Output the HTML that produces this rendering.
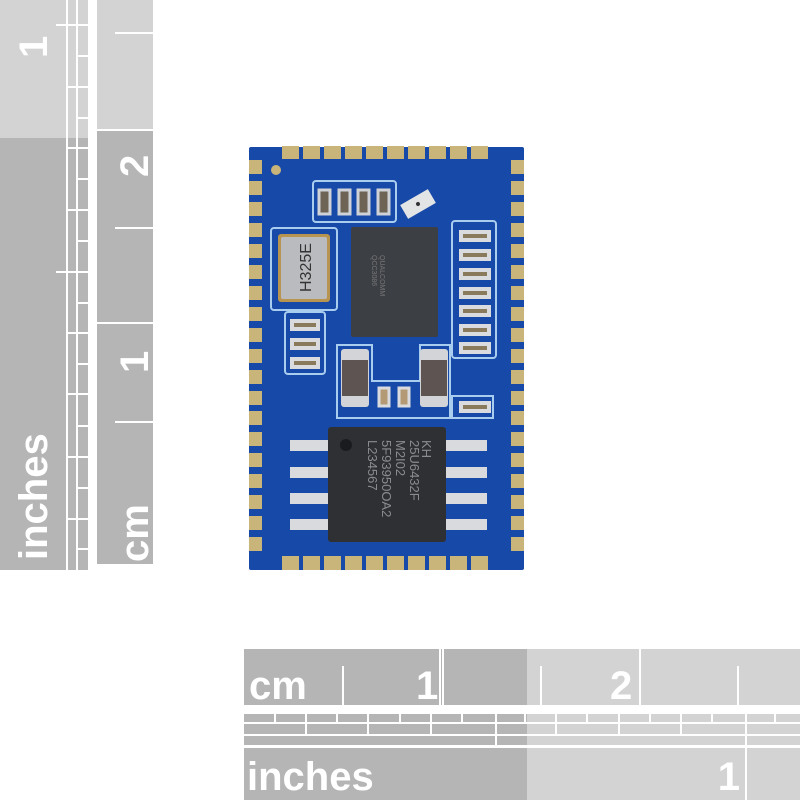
<!DOCTYPE html>
<html><head><meta charset="utf-8"><style>
html,body{margin:0;padding:0;background:#fff;width:800px;height:800px;overflow:hidden}
svg{display:block}
text{font-family:"Liberation Sans",sans-serif;font-weight:bold;fill:#fff}
</style></head><body>
<svg width="800" height="800" viewBox="0 0 800 800" xmlns="http://www.w3.org/2000/svg">
<!-- LEFT RULER -->
<rect x="0" y="0" width="90" height="138" fill="#d3d3d4"/>
<rect x="0" y="138" width="90" height="432" fill="#b5b5b6"/>
<rect x="97" y="0" width="56" height="130" fill="#d3d3d4"/>
<rect x="97" y="130" width="56" height="434" fill="#b5b5b6"/>
<g stroke="#fff" stroke-width="2">
<line x1="67" y1="0" x2="67" y2="570"/><line x1="77" y1="0" x2="77" y2="570"/><line x1="89" y1="0" x2="89" y2="570"/>
<line x1="56" y1="25" x2="90" y2="25"/><line x1="56" y1="272" x2="90" y2="272"/>
<line x1="67" y1="87" x2="89" y2="87"/><line x1="67" y1="148" x2="89" y2="148"/><line x1="67" y1="210" x2="89" y2="210"/>
<line x1="67" y1="333" x2="89" y2="333"/><line x1="67" y1="394" x2="89" y2="394"/><line x1="67" y1="457" x2="89" y2="457"/><line x1="67" y1="519" x2="89" y2="519"/>
<line x1="77" y1="56" x2="89" y2="56"/><line x1="77" y1="118" x2="89" y2="118"/><line x1="77" y1="179" x2="89" y2="179"/><line x1="77" y1="241" x2="89" y2="241"/>
<line x1="77" y1="303" x2="89" y2="303"/><line x1="77" y1="364" x2="89" y2="364"/><line x1="77" y1="426" x2="89" y2="426"/><line x1="77" y1="488" x2="89" y2="488"/><line x1="77" y1="549" x2="89" y2="549"/>
<line x1="97" y1="130" x2="153" y2="130"/><line x1="97" y1="323" x2="153" y2="323"/>
<line x1="115" y1="33" x2="153" y2="33"/><line x1="115" y1="228" x2="153" y2="228"/><line x1="115" y1="422" x2="153" y2="422"/>
</g>
<text transform="translate(47,58) rotate(-90)" font-size="40">1</text>
<text transform="translate(47,560) rotate(-90)" font-size="40">inches</text>
<text transform="translate(148,177) rotate(-90)" font-size="40">2</text>
<text transform="translate(148,373) rotate(-90)" font-size="40">1</text>
<text transform="translate(148,562) rotate(-90)" font-size="40">cm</text>

<!-- BOTTOM RULER -->
<rect x="244" y="649" width="283" height="56" fill="#b5b5b6"/>
<rect x="527" y="649" width="273" height="56" fill="#d3d3d4"/>
<rect x="244" y="713" width="283" height="33" fill="#b5b5b6"/>
<rect x="527" y="713" width="273" height="33" fill="#d3d3d4"/>
<rect x="244" y="748" width="283" height="52" fill="#b5b5b6"/>
<rect x="527" y="748" width="273" height="52" fill="#d3d3d4"/>
<g stroke="#fff" stroke-width="2">
<line x1="244" y1="713" x2="800" y2="713"/><line x1="244" y1="723" x2="800" y2="723"/><line x1="244" y1="735" x2="800" y2="735"/><line x1="244" y1="746" x2="800" y2="746"/>
<line x1="440" y1="649" x2="440" y2="705"/><line x1="443" y1="649" x2="443" y2="705"/><line x1="640" y1="649" x2="640" y2="705"/>
<line x1="343" y1="666" x2="343" y2="705"/><line x1="541" y1="666" x2="541" y2="705"/><line x1="738" y1="666" x2="738" y2="705"/>
<line x1="496" y1="713" x2="496" y2="746"/><line x1="746" y1="713" x2="746" y2="800"/>
<line x1="306" y1="713" x2="306" y2="735"/><line x1="368" y1="713" x2="368" y2="735"/><line x1="431" y1="713" x2="431" y2="735"/><line x1="556" y1="713" x2="556" y2="735"/><line x1="619" y1="713" x2="619" y2="735"/><line x1="681" y1="713" x2="681" y2="735"/>
<line x1="275" y1="713" x2="275" y2="723"/><line x1="337" y1="713" x2="337" y2="723"/><line x1="400" y1="713" x2="400" y2="723"/><line x1="462" y1="713" x2="462" y2="723"/>
<line x1="525" y1="713" x2="525" y2="723"/><line x1="587" y1="713" x2="587" y2="723"/><line x1="650" y1="713" x2="650" y2="723"/><line x1="712" y1="713" x2="712" y2="723"/><line x1="775" y1="713" x2="775" y2="723"/>
</g>
<text x="249" y="699" font-size="40">cm</text>
<text x="416" y="699" font-size="40">1</text>
<text x="610" y="699" font-size="40">2</text>
<text x="247" y="790" font-size="40">inches</text>
<text x="740" y="790" font-size="40" text-anchor="end">1</text>

<!-- BOARD -->
<rect x="249" y="147" width="275" height="423" rx="2" fill="#1749a8"/>
<g fill="#c9b47a">
<rect x="282" y="146" width="17" height="13"/><rect x="303" y="146" width="17" height="13"/><rect x="324" y="146" width="17" height="13"/><rect x="345" y="146" width="17" height="13"/><rect x="366" y="146" width="17" height="13"/>
<rect x="387" y="146" width="17" height="13"/><rect x="408" y="146" width="17" height="13"/><rect x="429" y="146" width="17" height="13"/><rect x="450" y="146" width="17" height="13"/><rect x="471" y="146" width="17" height="13"/>
<rect x="282" y="556" width="17" height="14"/><rect x="303" y="556" width="17" height="14"/><rect x="324" y="556" width="17" height="14"/><rect x="345" y="556" width="17" height="14"/><rect x="366" y="556" width="17" height="14"/>
<rect x="387" y="556" width="17" height="14"/><rect x="408" y="556" width="17" height="14"/><rect x="429" y="556" width="17" height="14"/><rect x="450" y="556" width="17" height="14"/><rect x="471" y="556" width="17" height="14"/>
</g>
<g fill="#c9b47a" id="lp">
<rect x="249" y="160" width="13" height="14"/><rect x="249" y="181" width="13" height="14"/><rect x="249" y="202" width="13" height="14"/><rect x="249" y="223" width="13" height="14"/><rect x="249" y="244" width="13" height="14"/>
<rect x="249" y="265" width="13" height="14"/><rect x="249" y="286" width="13" height="14"/><rect x="249" y="307" width="13" height="14"/><rect x="249" y="328" width="13" height="14"/><rect x="249" y="349" width="13" height="14"/>
<rect x="249" y="370" width="13" height="14"/><rect x="249" y="391" width="13" height="14"/><rect x="249" y="411" width="13" height="14"/><rect x="249" y="432" width="13" height="14"/><rect x="249" y="453" width="13" height="14"/>
<rect x="249" y="474" width="13" height="14"/><rect x="249" y="495" width="13" height="14"/><rect x="249" y="516" width="13" height="14"/><rect x="249" y="537" width="13" height="14"/>
</g>
<use href="#lp" x="262"/>
<circle cx="276" cy="170" r="5" fill="#c9b47a"/>
<g fill="none" stroke="#a9cdee" stroke-width="2">
<rect x="313" y="181" width="83" height="41" rx="3"/>
<rect x="271" y="228" width="66" height="82" rx="3"/>
<rect x="452" y="221" width="44" height="137" rx="3"/>
<rect x="285" y="312" width="40" height="62" rx="3"/>
<path d="M337 345 H372 V381 H420 V345 H450 V418 H337 Z"/>
<path d="M452 396 H493 V418 H452 Z"/>
</g>
<g fill="#6e6455" stroke="#cfd2d6" stroke-width="3">
<rect x="319" y="190" width="11" height="24"/><rect x="339" y="190" width="11" height="24"/><rect x="358" y="190" width="11" height="24"/><rect x="378" y="190" width="11" height="24"/>
</g>
<g transform="translate(418,204) rotate(-30)"><rect x="-16" y="-8" width="32" height="16" fill="#e3e4e6"/><circle cx="0" cy="0" r="2" fill="#333"/></g>
<rect x="278" y="234" width="52" height="68" rx="3" fill="#b7944f"/>
<rect x="281" y="237" width="46" height="62" rx="2" fill="#b9bbbe"/>
<text transform="translate(311,292) rotate(-90)" font-size="16" style="font-weight:normal;fill:#333">H325E</text>
<rect x="351" y="227" width="87" height="110" rx="2" fill="#3c3f44"/>
<g transform="translate(372,255) rotate(90)" font-size="7"><text style="fill:#777;font-weight:normal">QCC3086</text><text y="-8" style="fill:#777;font-weight:normal">QUALCOMM</text></g>
<g fill="#8a7a5c" stroke="#d9dbde" stroke-width="4">
<rect x="461" y="232" width="28" height="8"/><rect x="461" y="251" width="28" height="8"/><rect x="461" y="270" width="28" height="8"/><rect x="461" y="289" width="28" height="8"/>
<rect x="461" y="307" width="28" height="8"/><rect x="461" y="326" width="28" height="8"/><rect x="461" y="344" width="28" height="8"/>
<rect x="461" y="403" width="28" height="8"/>
<rect x="292" y="321" width="26" height="8"/><rect x="292" y="340" width="26" height="8"/><rect x="292" y="359" width="26" height="8"/>
</g>
<g><rect x="341" y="349" width="28" height="58" rx="3" fill="#d2d4d7"/><rect x="342" y="360" width="26" height="36" fill="#5e5553"/></g>
<g><rect x="420" y="349" width="28" height="58" rx="3" fill="#d2d4d7"/><rect x="421" y="360" width="26" height="36" fill="#5e5553"/></g>
<g fill="#b49a74" stroke="#d9dbde" stroke-width="3"><rect x="379" y="388" width="10" height="18"/><rect x="399" y="388" width="10" height="18"/></g>
<g fill="#d8dadd">
<rect x="290" y="440" width="40" height="11"/><rect x="290" y="467" width="40" height="11"/><rect x="290" y="493" width="40" height="11"/><rect x="290" y="519" width="40" height="11"/>
<rect x="443" y="440" width="44" height="11"/><rect x="443" y="467" width="44" height="11"/><rect x="443" y="493" width="44" height="11"/><rect x="443" y="519" width="44" height="11"/>
</g>
<rect x="328" y="427" width="118" height="115" rx="3" fill="#2e3034"/>
<circle cx="346" cy="445" r="6" fill="#1a1b1e"/>
<g transform="translate(360,440) rotate(90)" font-size="13">
<text y="-62" style="fill:#8a8c90;font-weight:normal">KH</text>
<text y="-50" style="fill:#8a8c90;font-weight:normal">25U6432F</text>
<text y="-36" style="fill:#8a8c90;font-weight:normal">M2I02</text>
<text y="-22" style="fill:#8a8c90;font-weight:normal">5F93950OA2</text>
<text y="-8" style="fill:#8a8c90;font-weight:normal">L234567</text>
</g>
</svg>
</body></html>
